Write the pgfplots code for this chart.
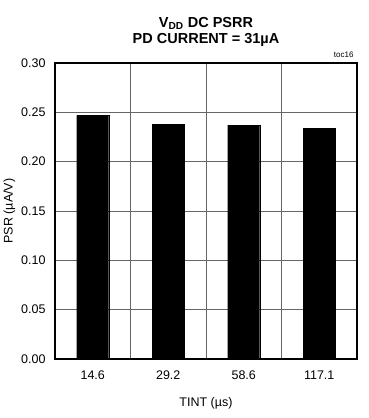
\documentclass[border=0pt]{standalone}
\usepackage{fontspec}
\setmainfont{Liberation Sans}
\usepackage{pgfplots}
\pgfplotsset{compat=1.18}
\begin{document}
\begin{tikzpicture}[x=1pt,y=1pt]
\path[use as bounding box] (-55,-59) rectangle (313,359);
\begin{axis}[
  at={(0,0)}, anchor=south west,
  scale only axis, width=302pt, height=296pt,
  xmin=-0.5, xmax=3.5, ymin=0, ymax=0.30,
  xtick={0,1,2,3}, xticklabels={14.6,29.2,58.6,117.1},
  minor xtick={0.5,1.5,2.5},
  ytick={0,0.05,0.10,0.15,0.20,0.25,0.30},
  /pgf/number format/fixed,
  /pgf/number format/fixed zerofill,
  /pgf/number format/precision=2,
  /pgf/number format/assume math mode=true,
  major tick length=0pt, minor tick length=0pt,
  ymajorgrids, xminorgrids,
  grid style={gray!80!black, line width=0.8pt},
  axis line style={line width=1.6pt},
  ticklabel style={font=\fontsize{12.5}{14}\selectfont},
  xticklabel style={yshift=-8pt},
  yticklabel style={xshift=-6pt},
  xlabel={TINT (µs)},
  ylabel={PSR (µA/V)},
  label style={font=\fontsize{12.5}{14}\selectfont},
  xlabel style={yshift=-11pt},
  ylabel style={yshift=-1pt},
]
\addplot[ybar, bar width=32pt, fill=black, draw=black, bar shift=0pt]
  coordinates {(0,0.247) (1,0.238) (2,0.237) (3,0.234)};
\end{axis}
\node[font=\bfseries\fontsize{14.5}{16}\selectfont, align=center] at (151,327)
  {V\textsubscript{DD} DC PSRR\\PD CURRENT = 31µA};
\node[font=\fontsize{8}{9}\selectfont, anchor=east] at (302,304) {toc16};
\end{tikzpicture}
\end{document}
